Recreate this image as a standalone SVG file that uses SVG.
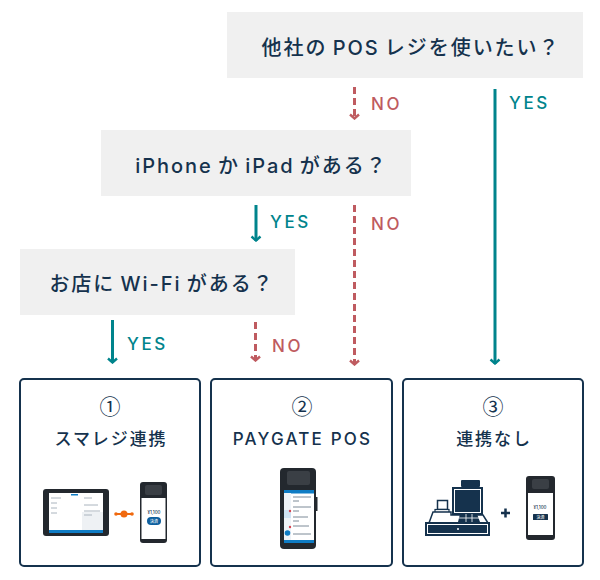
<svg xmlns="http://www.w3.org/2000/svg" width="600" height="580" viewBox="0 0 600 580">
<style>
text{font-family:Inter,"Noto Sans CJK JP",sans-serif;font-weight:500}
.q{fill:#f0f0f0}
.qt{font-size:20px;fill:#15324d;letter-spacing:1.95px;word-spacing:-2px;text-anchor:middle}
.card{fill:#fff;stroke:#15324d;stroke-width:2}
.ct{font-size:17px;fill:#15324d;letter-spacing:1.9px;text-anchor:middle}
.num{font-family:"Noto Sans CJK JP",sans-serif;font-size:21px;fill:#15324d;text-anchor:middle;font-weight:400}
.y{stroke:#00848c;stroke-width:3;fill:none}
.n{stroke:#bf5b60;stroke-width:3;fill:none;stroke-dasharray:7 4}
.yl{font-size:17px;fill:#00848c;letter-spacing:2.6px}
.nl{font-size:17px;fill:#bf5b60;letter-spacing:2.6px}
.b{fill:#0f7cc4}
.nv{fill:#15324d}
</style>
<defs>
<marker id="ay" markerUnits="userSpaceOnUse" markerWidth="12" markerHeight="10" refX="6" refY="9" orient="0"><path d="M1.500 4.500L6 8.500L10.500 4.500" fill="none" stroke="#00848c" stroke-width="2.400"/></marker>
<marker id="an" markerUnits="userSpaceOnUse" markerWidth="12" markerHeight="10" refX="6" refY="9" orient="0"><path d="M1.500 4.500L6 8.500L10.500 4.500" fill="none" stroke="#bf5b60" stroke-width="2.400"/></marker>
</defs>
<g id="connectors">
<path class="n" d="M354.500 87V119" marker-end="url(#an)"/>
<path class="y" d="M495 89V364" marker-end="url(#ay)"/>
<path class="y" d="M256 205V241" marker-end="url(#ay)"/>
<path class="n" d="M354.500 205V365" marker-end="url(#an)"/>
<path class="y" d="M112.500 320V363" marker-end="url(#ay)"/>
<path class="n" d="M255.500 322V361" marker-end="url(#an)"/>
<text class="nl" x="371" y="110">NO</text>
<text class="yl" x="509" y="109">YES</text>
<text class="yl" x="270" y="228">YES</text>
<text class="nl" x="371" y="230">NO</text>
<text class="yl" x="127" y="350">YES</text>
<text class="nl" x="272" y="352">NO</text>
</g>
<g id="q1"><rect class="q" x="227" y="12" width="356" height="66"/><text class="qt" x="411" y="55">他社の POS レジを使いたい？</text></g>
<g id="q2"><rect class="q" x="101" y="130" width="310" height="66"/><text class="qt" x="261.500" y="173">iPhone か iPad がある？</text></g>
<g id="q3"><rect class="q" x="20" y="249" width="275" height="66"/><text class="qt" x="162" y="291">お店に Wi-Fi がある？</text></g>
<g id="card1">
<rect class="card" x="20" y="379" width="180" height="187" rx="4"/>
<text class="num" x="110" y="414">①</text>
<text class="ct" x="111" y="445">スマレジ連携</text>
<rect x="43" y="489" width="66" height="47" rx="3" fill="#23282e"/>
<rect x="49" y="493" width="54" height="40" fill="#fff"/>
<rect x="49" y="530" width="54" height="3" class="b"/>
<rect x="82" y="512" width="21" height="18" fill="#eef1f4"/>
<rect x="71" y="494" width="7" height="1.500" class="b"/>
<path d="M51 498h10M51 503h6M51 508h6M51 513h6M84 498h8M84 505h14M84 511h16M84 515h8" stroke="#aab4be" stroke-width="1"/>
<path d="M116 514H132" stroke="#f0690f" stroke-width="2"/>
<circle cx="116" cy="514" r="1.800" fill="#f0690f"/><circle cx="132" cy="514" r="1.800" fill="#f0690f"/>
<circle cx="124" cy="514" r="3.500" fill="#f0690f"/>
<rect x="140" y="482" width="27" height="61" rx="3" fill="#23282e"/>
<rect x="145" y="485" width="17" height="10" rx="2" fill="#3a3f45"/>
<rect x="141.500" y="498" width="24" height="41" fill="#fff"/>
<text x="154" y="514" font-size="4.500" fill="#15324d" text-anchor="middle">¥1,100</text>
<rect x="147" y="517" width="14" height="8" rx="4" fill="#0e5f9e"/>
<text x="154" y="523" font-size="4" fill="#fff" text-anchor="middle">決済</text>
</g>
<g id="card2">
<rect class="card" x="211" y="379" width="181" height="187" rx="4"/>
<text class="num" x="302" y="414">②</text>
<text class="ct" x="302.500" y="445" style="letter-spacing:2.2px">PAYGATE POS</text>
<rect x="280" y="468" width="36" height="81" rx="4" fill="#23282e"/>
<rect x="287" y="471" width="23" height="14" rx="2" fill="#3a3f45"/>
<rect x="316" y="497" width="1.500" height="14" fill="#23282e"/>
<rect x="284" y="490" width="30" height="53" fill="#fff"/>
<rect x="284" y="490" width="30" height="3.500" class="b"/>
<rect x="284" y="493" width="7" height="47" fill="#eef3f8"/>
<rect x="284" y="510" width="7" height="8" fill="#cfe3f4"/>
<rect x="284" y="540" width="30" height="3" class="b"/>
<circle cx="287.500" cy="533" r="2.800" class="b"/>
<circle cx="290" cy="511" r="1.200" fill="#d9434e"/><circle cx="290" cy="527" r="1.200" fill="#d9434e"/>
<path d="M293 497h18M293 501h6M293 507h18M293 511h6M293 517h15M293 521h6M293 526h16M293 534h18" stroke="#7d8a97" stroke-width="1"/>
</g>
<g id="card3">
<rect class="card" x="403" y="379" width="180" height="187" rx="4"/>
<text class="num" x="493" y="414">③</text>
<text class="ct" x="494" y="445">連携なし</text>
<rect x="461" y="480" width="19" height="7" rx="1" class="nv"/>
<rect x="452" y="487" width="31" height="28" class="nv"/>
<rect x="454.500" y="489.500" width="26" height="23" class="nv" stroke="#fff" stroke-width="1"/>
<rect x="437.500" y="500.500" width="10" height="9" fill="#fff" stroke="#15324d" stroke-width="1.500"/>
<rect x="435" y="509.500" width="14" height="3" fill="#fff" stroke="#15324d" stroke-width="1.200"/>
<path d="M429 523L433 512H451V515H483L488 523Z" fill="#fff" stroke="#15324d" stroke-width="1.500"/>
<path d="M460 514H477L480 522H458Z" class="nv"/>
<path d="M459 518H479M466 514V522M472 514V522" stroke="#fff" stroke-width=".8"/>
<rect x="425" y="522" width="65" height="14" class="nv"/>
<rect x="427.500" y="524.500" width="60" height="9" class="nv" stroke="#fff" stroke-width="1"/>
<circle cx="458" cy="529" r="1" fill="#fff"/>
<path d="M501 513H510M505.500 508.500V517.500" stroke="#15324d" stroke-width="2.500"/>
<rect x="526" y="476" width="29" height="64" rx="3" fill="#23282e"/>
<rect x="532" y="479" width="17" height="10" rx="2" fill="#3a3f45"/>
<rect x="528" y="493" width="25" height="42" fill="#fff"/>
<text x="540" y="509" font-size="4.500" fill="#15324d" text-anchor="middle">¥1,100</text>
<rect x="533" y="514" width="15" height="6" class="nv" rx=".5"/>
<text x="540.500" y="519" font-size="4" fill="#fff" text-anchor="middle">決済</text>
</g>
</svg>
